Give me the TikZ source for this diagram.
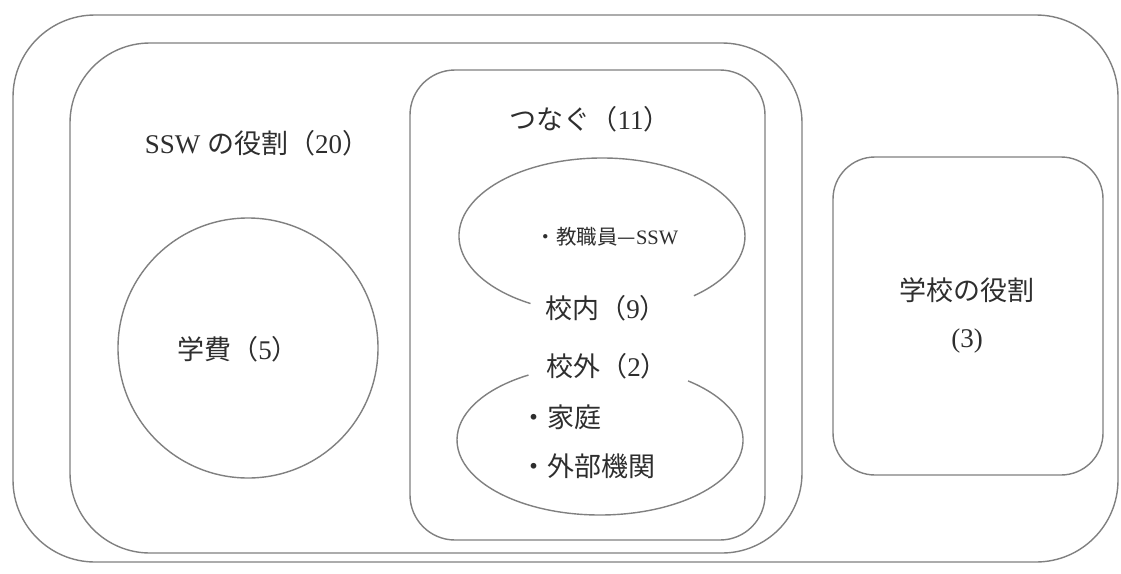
\documentclass[tikz,border=0pt]{standalone}
\usepackage{fontspec}
\setmainfont{Liberation Serif}
\newfontfamily\jpfont{Noto Sans CJK JP}
\newcommand{\jp}[1]{{\jpfont #1}}
\usepackage{tikz}
\usetikzlibrary{positioning}
\definecolor{linegray}{rgb}{0.50,0.50,0.50}
\definecolor{textgray}{rgb}{0.18,0.18,0.18}

\begin{document}
\begin{tikzpicture}[x=1pt,y=-1pt,
		frame/.style={draw=linegray,line width=1.4pt,inner sep=0pt},
		lbl/.style={text=textgray,font=\fontsize{27}{47}\selectfont,inner sep=0pt},
		smalllbl/.style={text=textgray,font=\fontsize{20.5}{24}\selectfont,inner sep=0pt}]
		
		\useasboundingbox (0,0) rectangle (1121,573);
		\fill[white] (0,0) rectangle (1121,573);
		
		% frames
		\node[frame,rounded corners=82pt,minimum width=1105pt,minimum height=547pt] (outer) at (565.5,288.5) {};
		\node[frame,rounded corners=80pt,minimum width=732pt,minimum height=510pt] (sswbox) at (436,298) {};
		\node[frame,rounded corners=45pt,minimum width=355pt,minimum height=470pt] (tsunagubox) at (587.5,305) {};
		\node[frame,rounded corners=42pt,minimum width=270pt,minimum height=318pt] (gakkobox) at (968,316) {};
		\node[frame,circle,minimum size=260pt] (gakuhi) at (248,348) {};
		
		% open ellipses
		\coordinate (inC) at (602,236);
		\coordinate (outC) at (600,440);
		\draw[frame] (inC) ++(120:143 and 78) arc[start angle=120,end angle=410,x radius=143,y radius=78];
		\draw[frame] (outC) ++(308:143 and 75) arc[start angle=308,end angle=600,x radius=143,y radius=75];
		
		% labels
		\node[lbl] (sswlab) at (257,143) {SSW \jp{の役割（}20\jp{）}};
		\node[lbl] (tsunagulab) at (590,119) {\jp{つなぐ（}11\jp{）}};
		\node[smalllbl] (kyoshokulab) at (607,237) {\jp{・教職員—}SSW};
		\node[lbl] (konailab) at (606,308) {\jp{校内（}9\jp{）}};
		\node[lbl] (kogailab) at (607,366) {\jp{校外（}2\jp{）}};
		\node[lbl,anchor=west] (kateilab) at (520,417) {\jp{・家庭}};
		\node[lbl,anchor=west] (gaibulab) at (520,466) {\jp{・外部機関}};
		\node[lbl] (gakuhilab) at (238,349) {\jp{学費（}5\jp{）}};
		\node[lbl,align=center] (gakkolab) at (967,315) {\jp{学校の役割}\\(3)};
		
\end{tikzpicture}
\end{document}
